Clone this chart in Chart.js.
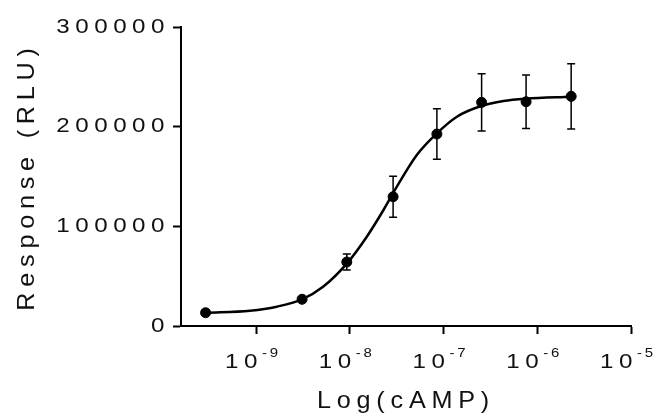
<!DOCTYPE html>
<html>
<head>
<meta charset="utf-8">
<script src="https://cdn.jsdelivr.net/npm/chart.js@4.4.0/dist/chart.umd.min.js"></script>
<style>
  html, body { margin: 0; padding: 0; background: #fff; }
  #wrap { width: 657px; height: 417px; }
</style>
</head>
<body>
<div id="wrap"><canvas id="myChart" width="657" height="417"></canvas></div>
<script>
// measured points (mean +/- error), dose in M
const doses = [2.9e-10, 3.1e-9, 9.3e-9, 2.9e-8, 8.5e-8, 2.55e-7, 7.6e-7, 2.3e-6];
const responses = [13300, 26800, 64200, 129700, 192600, 224400, 225000, 230400];
const errors = [2500, 2500, 8000, 20500, 25400, 28800, 26900, 32800];

// fitted curve
const curveX = [2.92e-10, 8.63e-10, 1.66e-9, 3.10e-9, 5.19e-9, 9.35e-9, 1.52e-8, 2.29e-8,
                3.18e-8, 5.19e-8, 8.49e-8, 1.39e-7, 2.52e-7, 4.36e-7, 7.55e-7, 2.29e-6];
const curveY = [13300, 15400, 19400, 26800, 39400, 62900, 89600, 116400,
                139800, 171600, 193300, 210000, 220700, 225700, 228000, 230000];

const xTickExponents = [-9, -8, -7, -6, -5];
const yTicks = [0, 100000, 200000, 300000];

const textColor = '#111';

// wraps fillText so labels get drawn wide and spaced out, like the prism export
function wideText(ctx) {
  const fill = ctx.fillText.bind(ctx);
  ctx.fillText = function (t, x, y) {
    const size = parseFloat((this.font.match(/([\d.]+)px/) || [0, 12])[1]);
    const big = size >= 23;
    this.letterSpacing = big ? '5.5px' : size >= 16 ? '4.8px' : '2.5px';
    this.save();
    this.translate(x, y);
    this.scale(big ? 1.05 : 1.15, 1);
    fill(t, 0, 0);
    this.restore();
  };
}

const errorBars = {
  id: 'errorBars',
  beforeDatasetsDraw(chart) {
    const ctx = chart.ctx, xs = chart.scales.x, ys = chart.scales.y;
    ctx.save();
    ctx.strokeStyle = '#000';
    ctx.lineWidth = 1.5;
    doses.forEach((d, i) => {
      const px = xs.getPixelForValue(d);
      const top = ys.getPixelForValue(responses[i] + errors[i]);
      const bot = ys.getPixelForValue(responses[i] - errors[i]);
      ctx.beginPath();
      ctx.moveTo(px, top); ctx.lineTo(px, bot);
      ctx.moveTo(px - 4, top); ctx.lineTo(px + 4, top);
      ctx.moveTo(px - 4, bot); ctx.lineTo(px + 4, bot);
      ctx.stroke();
    });
    ctx.restore();
  }
};

const xTickLabels = {
  id: 'xTickLabels',
  afterDraw(chart) {
    const ctx = chart.ctx, xs = chart.scales.x;
    ctx.save();
    ctx.fillStyle = textColor;
    ctx.textAlign = 'left';
    ctx.textBaseline = 'alphabetic';
    xTickExponents.forEach(e => {
      const px = xs.getPixelForValue(Math.pow(10, e));
      ctx.font = '21px Arial';
      ctx.fillText('10', px - 31, 368);
      ctx.font = '13px Arial';
      ctx.fillText('-' + Math.abs(e), px + 6, 357);
    });
    ctx.restore();
  }
};

const data = {
  datasets: [
    {
      type: 'line',
      data: curveX.map((x, i) => ({ x: x, y: curveY[i] })),
      borderColor: '#000',
      borderWidth: 2.5,
      pointRadius: 0,
      showLine: true,
      fill: false,
      cubicInterpolationMode: 'monotone'
    },
    {
      type: 'scatter',
      data: doses.map((x, i) => ({ x: x, y: responses[i] })),
      backgroundColor: '#000',
      borderColor: '#000',
      pointRadius: 5,
      showLine: false
    }
  ]
};

const config = {
  type: 'scatter',
  data: data,
  options: {
    responsive: false,
    animation: false,
    layout: { padding: { left: 0, right: 26, top: 27, bottom: 0 } },
    plugins: { legend: { display: false }, tooltip: { enabled: false } },
    scales: {
      x: {
        type: 'logarithmic',
        bounds: 'data',
        min: Math.pow(10, -9.8),
        max: 1e-5,
        afterBuildTicks: s => { s.ticks = xTickExponents.map(e => ({ value: Math.pow(10, e) })); },
        afterFit: s => { s.height = 91; },
        ticks: { display: false },
        grid: { drawOnChartArea: false, drawTicks: true, tickLength: 8, tickColor: '#000', tickWidth: 2 },
        border: { display: true, color: '#000', width: 2 },
        title: {
          display: true, text: 'Log(cAMP)', color: textColor,
          font: { family: 'Arial', size: 24 }, padding: { top: 0, bottom: 1 }
        }
      },
      y: {
        min: 0,
        max: 300000,
        afterBuildTicks: s => { s.ticks = yTicks.map(v => ({ value: v })); },
        afterFit: s => { s.width = 181; },
        ticks: { color: textColor, font: { family: 'Arial', size: 21 }, padding: 3, callback: v => String(v) },
        grid: { drawOnChartArea: false, drawTicks: true, tickLength: 8, tickColor: '#000', tickWidth: 2 },
        border: { display: true, color: '#000', width: 2 },
        title: {
          display: true, text: 'Response (RLU)', color: textColor,
          font: { family: 'Arial', size: 24 }, padding: { top: 13, bottom: 0 }
        }
      }
    }
  },
  plugins: [errorBars, xTickLabels]
};

const canvas = document.getElementById('myChart');
wideText(canvas.getContext('2d'));
new Chart(canvas, config);
</script>
</body>
</html>
